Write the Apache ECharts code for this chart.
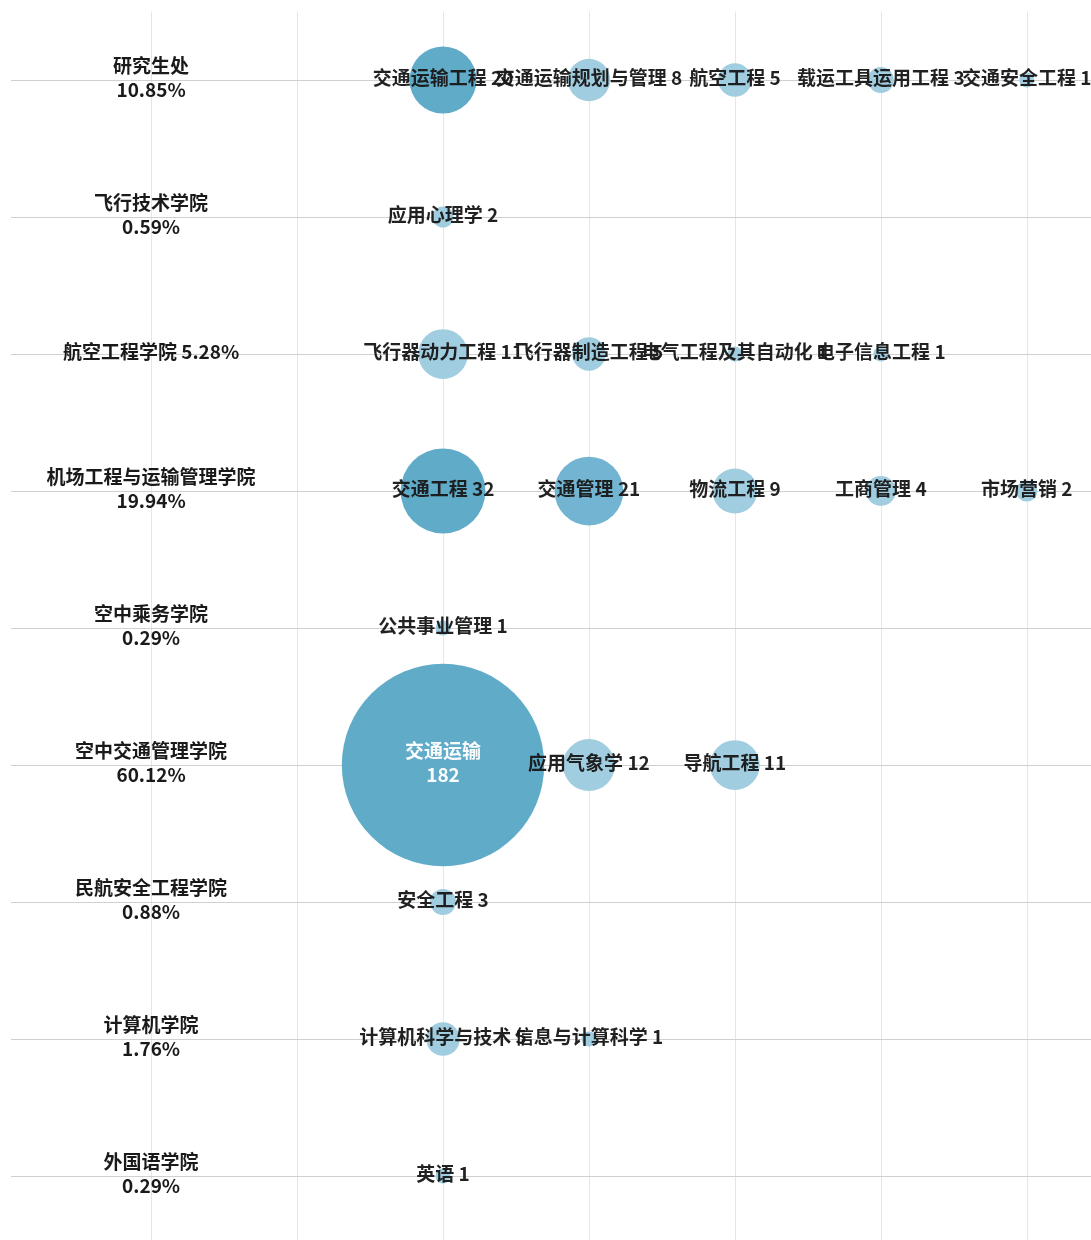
<!DOCTYPE html>
<html>
<head>
<meta charset="utf-8">
<script src="https://cdn.jsdelivr.net/npm/echarts@6/dist/echarts.min.js"></script>
<style>
  html, body { margin: 0; padding: 0; background: #fff; }
  #main { width: 1091px; height: 1240px; }
</style>
</head>
<body>
<div id="main"></div>
<script>
// 학원(행) 목록, 위에서 아래 순서
const colleges = ['研究生处', '飞行技术学院', '航空工程学院', '机场工程与运输管理学院', '空中乘务学院',
  '空中交通管理学院', '民航安全工程学院', '计算机学院', '外国语学院'];
const collegeShares = ['10.85%', '0.59%', '5.28%', '19.94%', '0.29%', '60.12%', '0.88%', '1.76%', '0.29%'];
const oneLineRows = ['航空工程学院']; // 이 행만 이름과 비율이 한 줄

// 각 학원의 전공 이름과 인원
const majorNames = [
  ['交通运输工程', '交通运输规划与管理', '航空工程', '载运工具运用工程', '交通安全工程'],
  ['应用心理学'],
  ['飞行器动力工程', '飞行器制造工程', '电气工程及其自动化', '电子信息工程'],
  ['交通工程', '交通管理', '物流工程', '工商管理', '市场营销'],
  ['公共事业管理'],
  ['交通运输', '应用气象学', '导航工程'],
  ['安全工程'],
  ['计算机科学与技术', '信息与计算科学'],
  ['英语']
];
const majorCounts = [
  [20, 8, 5, 3, 1],
  [2],
  [11, 5, 1, 1],
  [32, 21, 9, 4, 2],
  [1],
  [182, 12, 11],
  [3],
  [5, 1],
  [1]
];
const columnTicks = [0, 1, 2, 3, 4, 5, 6];

const darkColor = '#5aa8c6';
const midColor = '#6db2cf';
const lightColor = '#9ecbdf';
const font = 'Noto Sans CJK SC';

// 행 번호(0~8)를 y값으로 사용
const labelData = colleges.map((c, i) => [0, i, c, collegeShares[i]]);
const bubbleData = [];
majorNames.forEach((names, i) => {
  names.forEach((n, j) => {
    bubbleData.push([2 + j, i, majorCounts[i][j], n]);
  });
});

// 인원 수에 따른 색
const bubbleColor = (v) => (v === 21 ? midColor : v >= 20 ? darkColor : lightColor);

const myChart = echarts.init(document.getElementById('main'));

const textStyle = {
  fontFamily: font,
  fontSize: 19,
  fontWeight: 'bold',
  lineHeight: 24,
  color: '#1a1a1a',
  textBorderWidth: 0,
  offset: [0, -2]
};

const hiddenAxis = {
  axisLine: { show: false },
  axisTick: { show: false },
  axisLabel: { show: false },
  splitLine: { show: false }
};

const option = {
  animation: false,
  grid: { left: 11, right: 0, top: 11.5, bottom: 0 },
  xAxis: { type: 'value', min: -0.96, max: 6.44, ...hiddenAxis },
  yAxis: { type: 'value', min: -0.5, max: 8.467, inverse: true, ...hiddenAxis },
  series: [
    {
      // 격자선 + 왼쪽 학원 라벨
      type: 'scatter',
      z: 1,
      data: labelData,
      symbolSize: 0,
      itemStyle: { opacity: 1 },
      label: {
        show: true,
        position: 'inside',
        ...textStyle,
        formatter: (p) => p.value[2] + (oneLineRows.includes(p.value[2]) ? ' ' : '\n') + p.value[3]
      },
      emphasis: { disabled: true },
      markLine: {
        silent: true,
        z: 0,
        symbol: ['none', 'none'],
        label: { show: false },
        data: [
          ...columnTicks.map((x) => ({ xAxis: x, lineStyle: { color: '#e6e6e6', width: 1, type: 'solid' } })),
          ...colleges.map((c, i) => ({ yAxis: i, lineStyle: { color: '#d0d0d0', width: 1, type: 'solid' } }))
        ]
      }
    },
    {
      type: 'scatter',
      z: 3,
      data: bubbleData.map((d) => ({
        value: d,
        itemStyle: { color: bubbleColor(d[2]), opacity: 0.97 },
        label: d[2] >= 100 ? { color: '#fff' } : undefined
      })),
      symbolSize: (v) => Math.sqrt(v[2]) * 15,
      label: {
        show: true,
        position: 'inside',
        ...textStyle,
        formatter: (p) => p.value[2] >= 100 ? p.value[3] + '\n' + p.value[2] : p.value[3] + ' ' + p.value[2]
      },
      emphasis: { disabled: true }
    }
  ]
};

myChart.setOption(option);
</script>
</body>
</html>
